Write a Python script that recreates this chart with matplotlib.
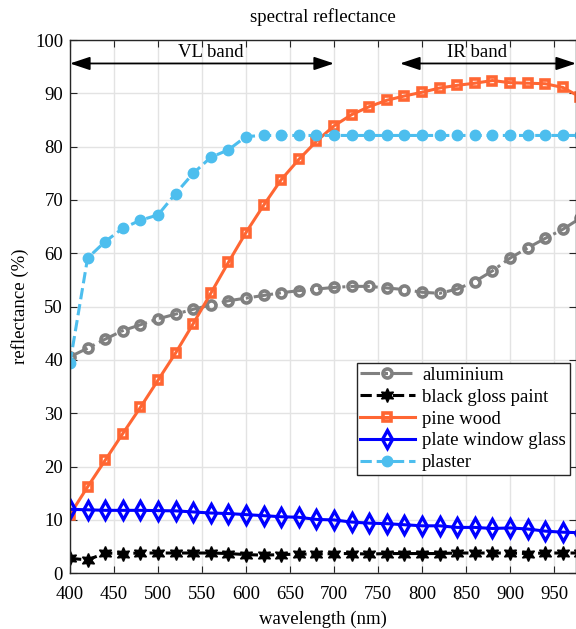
import numpy as np
import matplotlib
matplotlib.use("Agg")
import matplotlib.pyplot as plt

plt.rcParams['font.family'] = ['Liberation Serif', 'DejaVu Serif']
plt.rcParams['font.size'] = 13.5

wavelength = list(range(400, 1001, 20))

aluminium = [40.6, 42.2, 43.9, 45.5, 46.6, 47.7, 48.6, 49.5, 50.3, 51.1,
             51.6, 52.1, 52.6, 53.0, 53.3, 53.6, 53.8, 53.8, 53.5, 53.2,
             52.7, 52.5, 53.3, 54.7, 56.7, 59.1, 61.0, 62.8, 64.5, 66.6,
             68.5]
black_gloss_paint = [2.8, 2.5, 3.8, 3.7, 3.8, 3.8, 3.8, 3.8, 3.8, 3.7,
                     3.5, 3.4, 3.5, 3.6, 3.6, 3.7, 3.7, 3.6, 3.7, 3.7,
                     3.7, 3.7, 3.8, 3.8, 3.8, 3.8, 3.7, 3.8, 3.8, 3.8,
                     3.8]
pine_wood = [11.0, 16.2, 21.2, 26.2, 31.1, 36.2, 41.3, 46.8, 52.5, 58.3,
             63.9, 69.0, 73.8, 77.6, 81.0, 83.9, 86.0, 87.5, 88.7, 89.5,
             90.2, 91.0, 91.5, 91.9, 92.4, 92.0, 91.9, 91.8, 91.1, 89.3,
             87.0]
plate_window_glass = [12.0, 11.9, 11.8, 11.8, 11.8, 11.75, 11.7, 11.5, 11.3, 11.2,
                      11.0, 10.8, 10.6, 10.5, 10.1, 10.0, 9.6, 9.4, 9.3, 9.1,
                      8.9, 8.9, 8.6, 8.6, 8.4, 8.5, 8.3, 7.9, 7.7, 7.6,
                      7.5]
plaster = [39.4, 59.1, 62.2, 64.7, 66.2, 67.2, 71.2, 75.0, 78.0, 79.4,
           81.9, 82.1, 82.1, 82.1, 82.1, 82.1, 82.1, 82.1, 82.1, 82.1,
           82.1, 82.1, 82.1, 82.1, 82.1, 82.1, 82.1, 82.1, 82.1, 82.1,
           82.1]

vl_band = (400, 700)
ir_band = (775, 975)

fig = plt.figure(figsize=(5.76, 6.29), dpi=100)
ax = fig.add_axes([0.1215, 0.0886, 0.8785, 0.8478])

lw = 2.2
ax.plot(wavelength, aluminium, '-.', color='#808080', lw=lw, marker='o',
        ms=6.5, mfc='none', mew=2.6, label='aluminium')
ax.plot(wavelength, black_gloss_paint, '--', color='black', lw=lw,
        marker=(6, 1, 0), ms=10, label='black gloss paint')
ax.plot(wavelength, pine_wood, '-', color='#FF6633', lw=lw, marker='s',
        ms=6, mfc='none', mew=2.6, label='pine wood')
ax.plot(wavelength, plate_window_glass, '-', color='#0000FF', lw=lw,
        marker='d', ms=9, mfc='none', mew=2.4, label='plate window glass')
ax.plot(wavelength, plaster, '--', color='#4DBEEE', lw=lw, marker='o',
        ms=7.5, label='plaster')

# band arrows
arrow_y = 95.6
for band in (vl_band, ir_band):
    ax.annotate('', xy=(band[0], arrow_y), xytext=(band[1], arrow_y),
                arrowprops=dict(arrowstyle='<|-|>,head_length=0.9,head_width=0.3',
                                color='black', lw=1.3, shrinkA=0, shrinkB=0),
                annotation_clip=False)
ax.text(560, 97.6, 'VL band', ha='center', va='center')
ax.text(862, 97.6, 'IR band', ha='center', va='center')

ax.set_xlim(400, 975)
ax.set_ylim(0, 100)
ax.set_xticks(range(400, 951, 50))
ax.set_yticks(range(0, 101, 10))
ax.grid(True, color='#E3E3E3', lw=1.0)
ax.set_axisbelow(True)
ax.tick_params(direction='in', top=True, right=True, length=5,
               color='#262626')
ax.tick_params(axis='x', pad=9)
ax.tick_params(axis='y', pad=5)
for s in ax.spines.values():
    s.set_color('#262626')
    s.set_linewidth(1.0)

ax.set_xlabel('wavelength (nm)', labelpad=6)
ax.set_ylabel('reflectance (%)', labelpad=4)
ax.set_title('spectral reflectance', fontsize=13.5, pad=13)

leg = ax.legend(loc='lower right', bbox_to_anchor=(0.9875, 0.1843),
                handlelength=2.9, handletextpad=0.4, labelspacing=0.25,
                borderpad=0.2, borderaxespad=0, fancybox=False,
                edgecolor='#262626', framealpha=1)
leg.get_frame().set_linewidth(1.0)

fig.savefig('out.png', dpi=100)
